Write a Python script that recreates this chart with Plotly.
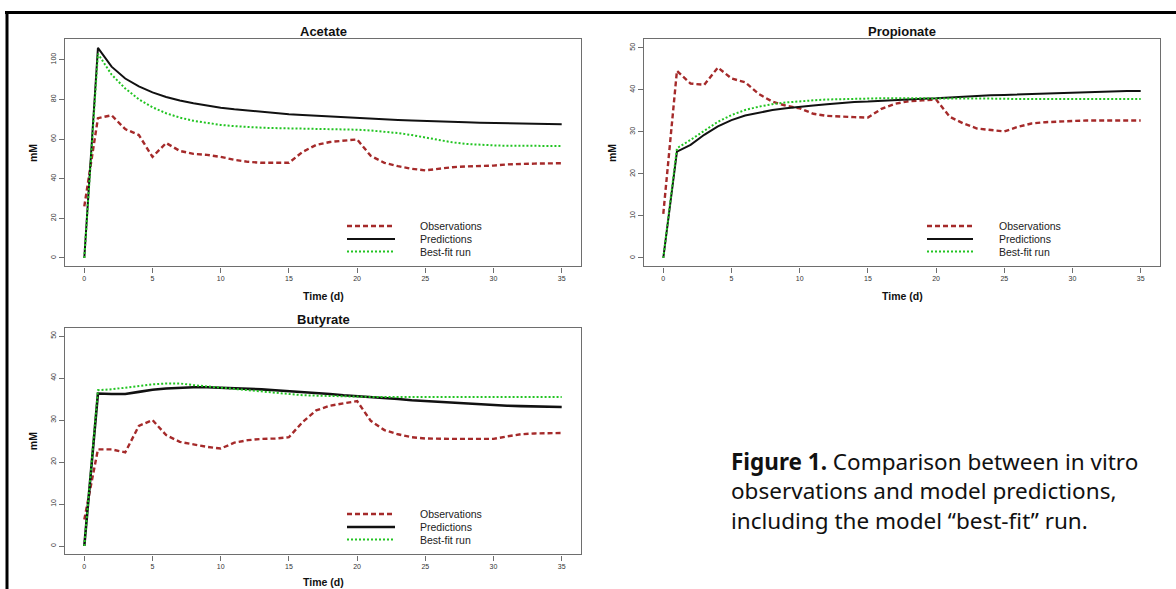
import plotly.graph_objects as go

W, H = 1176, 589

# ---------------- data ----------------
days = list(range(36))

acetate_obs = [26, 70.5, 72, 65, 62, 51, 58, 54, 52.5, 52, 51, 49.5, 48.5, 48, 48, 48,
               53.5, 57, 58.5, 59.3, 59.8, 51.5, 48, 46.3, 45, 44.2, 45, 45.8, 46.2, 46.4,
               46.6, 47.2, 47.5, 47.6, 47.7, 47.8]
acetate_pred = [0, 106, 96.5, 90.5, 86.5, 83.5, 81.2, 79.4, 78, 76.8, 75.8, 75, 74.3, 73.6,
                73, 72.5, 72.1, 71.7, 71.3, 70.9, 70.6, 70.3, 70, 69.6, 69.3, 69, 68.8, 68.6,
                68.4, 68.2, 68, 67.9, 67.8, 67.7, 67.6, 67.5]
acetate_best = [0, 103, 92.5, 85.5, 80, 76, 73, 70.8, 69.2, 68, 67.1, 66.5, 66, 65.7, 65.5,
                65.4, 65.3, 65.1, 65, 64.9, 64.7, 64.3, 63.7, 63, 62, 60.8, 59.5, 58.3, 57.5,
                57, 56.8, 56.6, 56.5, 56.5, 56.5, 56.5]

propionate_obs = [10.5, 44.5, 41.5, 41.2, 45.3, 42.7, 41.8, 39, 37.2, 36.2, 35.6, 34.3, 33.8,
                  33.6, 33.5, 33.4, 35.5, 36.7, 37.3, 37.5, 37.7, 33.6, 32, 30.8, 30.4, 30.1,
                  31.2, 32, 32.3, 32.5, 32.6, 32.7, 32.7, 32.7, 32.7, 32.7]
propionate_pred = [0, 25.3, 26.9, 29.3, 31.3, 32.8, 33.9, 34.6, 35.2, 35.6, 36.0, 36.3, 36.6,
                   36.9, 37.1, 37.2, 37.4, 37.6, 37.7, 37.9, 38.0, 38.2, 38.4, 38.5, 38.7, 38.8,
                   38.9, 39.0, 39.2, 39.3, 39.4, 39.5, 39.6, 39.6, 39.7, 39.7]
propionate_best = [0, 26.1, 28.1, 30.3, 32.4, 34.0, 35.2, 36.0, 36.6, 37.0, 37.3, 37.5, 37.7,
                   37.8, 37.9, 38.0, 38.0, 38.0, 38.0, 38.0, 38.0, 37.9, 37.9, 37.9, 37.9, 37.9,
                   37.8, 37.8, 37.8, 37.8, 37.8, 37.8, 37.8, 37.8, 37.8, 37.8]

butyrate_obs = [6.3, 23, 23, 22.3, 28.6, 30, 26.4, 24.8, 24.2, 23.6, 23.2, 24.6, 25.2, 25.5,
                25.6, 25.9, 29.5, 32.3, 33.4, 34.0, 34.5, 29.8, 27.6, 26.6, 25.9, 25.6, 25.5,
                25.5, 25.5, 25.5, 25.5, 26.1, 26.6, 26.8, 26.9, 26.9]
butyrate_pred = [0, 36.3, 36.2, 36.2, 36.7, 37.2, 37.5, 37.7, 37.8, 37.8, 37.7, 37.6, 37.5,
                 37.3, 37.1, 36.9, 36.7, 36.4, 36.2, 35.9, 35.7, 35.5, 35.2, 35.0, 34.7, 34.5,
                 34.3, 34.1, 33.9, 33.7, 33.5, 33.4, 33.3, 33.2, 33.1, 33.1]
butyrate_best = [0, 37.1, 37.3, 37.7, 38.1, 38.5, 38.7, 38.7, 38.3, 38.0, 37.7, 37.4, 37.1,
                 36.8, 36.4, 36.1, 35.9, 35.8, 35.7, 35.7, 35.6, 35.5, 35.5, 35.5, 35.5, 35.5,
                 35.5, 35.5, 35.5, 35.5, 35.5, 35.5, 35.5, 35.5, 35.5, 35.5]

x_ticks = [0, 5, 10, 15, 20, 25, 30, 35]
acetate_yticks = [0, 20, 40, 60, 80, 100]
vfa_yticks = [0, 10, 20, 30, 40, 50]

panel_titles = ["Acetate", "Propionate", "Butyrate"]
series_names = ["Observations", "Predictions", "Best-fit run"]
x_title = "Time (d)"
y_title = "mM"
caption = ("<b>Figure 1.</b> Comparison between in vitro<br>"
           "observations and model predictions,<br>"
           "including the model \u201cbest-fit\u201d run.")

# ---------------- styling ----------------
OBS_COLOR = "#A52A2A"
PRED_COLOR = "#111111"
BEST_COLOR = "#22c422"
FRAME = "#6e6e6e"
FONT = "Liberation Sans, Arial, sans-serif"


def PX(x):
    return x / W


def PY(y):
    return 1 - y / H


# panel pixel boxes: (left, right, top, bottom)
boxes = {
    "x": (65.2, 580.8, 39.4, 266.4),
    "x2": (644.2, 1159.8, 39.4, 266.4),
    "x3": (65.2, 580.8, 327.6, 554.4),
}

fig = go.Figure()

panels = [
    ("x", "y", acetate_obs, acetate_pred, acetate_best, [-4.24, 110.24], acetate_yticks, 2.0),
    ("x2", "y2", propionate_obs, propionate_pred, propionate_best, [-2, 52], vfa_yticks, 2.0),
    ("x3", "y3", butyrate_obs, butyrate_pred, butyrate_best, [-2, 52], vfa_yticks, 2.6),
]

styles = [
    dict(color=OBS_COLOR, width=2.4, dash="5px,3px"),
    dict(color=PRED_COLOR, width=2.0, dash="solid"),
    dict(color=BEST_COLOR, width=2.0, dash="2px,2px"),
]

layout_axes = {}
for i, (xa, ya, obs, pred, best, yr, yt, pw) in enumerate(panels):
    for name, vals, st in zip(series_names, [obs, pred, best], styles):
        st2 = dict(st)
        if name == "Predictions":
            st2["width"] = pw
        fig.add_trace(go.Scatter(x=days, y=vals, mode="lines", name=name, line=st2,
                                 xaxis=xa, yaxis=ya, showlegend=False))
    l, r, t, b = boxes[xa]
    xkey = "xaxis" if xa == "x" else "xaxis" + xa[1:]
    ykey = "yaxis" if ya == "y" else "yaxis" + ya[1:]
    axis_common = dict(showline=True, linecolor=FRAME, linewidth=1.3, mirror=True,
                       ticks="outside", ticklen=5, tickcolor=FRAME, tickwidth=1,
                       showgrid=False, zeroline=False,
                       tickfont=dict(family=FONT, size=7, color="#333"))
    layout_axes[xkey] = dict(domain=[PX(l), PX(r)], range=[-1.4, 36.4], anchor=ya,
                             tickvals=x_ticks, ticktext=[str(v) for v in x_ticks],
                             **axis_common)
    layout_axes[ykey] = dict(domain=[PY(b), PY(t)], range=yr, anchor=xa,
                             tickvals=yt, ticktext=[str(v) for v in yt], tickangle=-90,
                             **axis_common)

fig.update_layout(**layout_axes)

annotations = []
shapes = []

# titles and axis labels
for (xa, _, *_rest), title in zip(panels, panel_titles):
    l, r, t, b = boxes[xa]
    cx = (l + r) / 2
    annotations.append(dict(text=f"<b>{title}</b>", x=PX(cx), y=PY(t - 8), xref="paper",
                            yref="paper", showarrow=False, xanchor="center", yanchor="middle",
                            font=dict(family=FONT, size=13, color="#111")))
    annotations.append(dict(text=f"<b>{x_title}</b>", x=PX(cx), y=PY(min(b + 29.5, 582)),
                            xref="paper", yref="paper", showarrow=False, xanchor="center",
                            yanchor="middle", font=dict(family=FONT, size=10.5, color="#111")))
    annotations.append(dict(text=f"<b>{y_title}</b>", x=PX(l - 32), y=PY((t + b) / 2),
                            xref="paper", yref="paper", showarrow=False, textangle=-90,
                            xanchor="center", yanchor="middle",
                            font=dict(family=FONT, size=10.5, color="#111")))

# legends (drawn inside each panel, R-style, no box)
legend_pos = {
    "x": (347, 395, 418, [226, 239, 251.5]),
    "x2": (927, 973, 997, [226, 239, 251.5]),
    "x3": (347, 395, 418, [514, 527, 539.5]),
}
for xa, _, *_rest, pw in panels:
    k0, k1, tx, rows = legend_pos[xa]
    for name, st, yy in zip(series_names, styles, rows):
        w = pw if name == "Predictions" else st["width"]
        shapes.append(dict(type="line", xref="paper", yref="paper", x0=PX(k0), x1=PX(k1),
                           y0=PY(yy), y1=PY(yy),
                           line=dict(color=st["color"], width=w, dash=st["dash"])))
        annotations.append(dict(text=name, x=PX(tx), y=PY(yy), xref="paper", yref="paper",
                                showarrow=False, xanchor="left", yanchor="middle",
                                font=dict(family=FONT, size=10.5, color="#222")))

# caption
annotations.append(dict(text=caption, x=PX(729), y=PY(490.5), xref="paper", yref="paper",
                        showarrow=False, xanchor="left", yanchor="middle", align="left",
                        font=dict(family="Noto Sans, Open Sans, sans-serif", size=22.5,
                                  color="#111")))

# outer black frame (top and left)
shapes.append(dict(type="line", xref="paper", yref="paper", x0=PX(5), x1=1, y0=PY(12.5),
                   y1=PY(12.5), line=dict(color="black", width=3)))
shapes.append(dict(type="line", xref="paper", yref="paper", x0=PX(7), x1=PX(7), y0=PY(11),
                   y1=0, line=dict(color="black", width=3)))

fig.update_layout(width=W, height=H, margin=dict(l=0, r=0, t=0, b=0),
                  paper_bgcolor="white", plot_bgcolor="white", showlegend=False,
                  annotations=annotations, shapes=shapes)

fig.write_html("out.html", config={"displayModeBar": False},
               post_script="document.body.style.margin='0';"
                           "document.body.style.overflow='hidden';")
